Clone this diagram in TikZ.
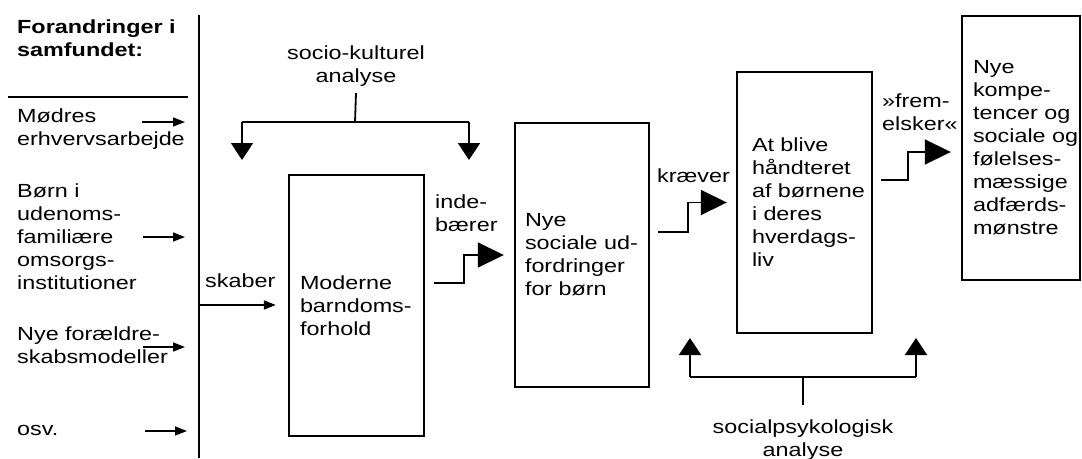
\documentclass[tikz,border=0pt]{standalone}
\usepackage{fontspec}
\setmainfont[FakeStretch=1.23]{Liberation Sans}
\usetikzlibrary{arrows.meta,calc}
\hyphenpenalty=10000
\exhyphenpenalty=10000
\begin{document}
\begin{tikzpicture}[x=1pt,y=-1pt,
  every node/.style={font=\fontsize{19}{23}\selectfont, inner sep=0pt},
  txt/.style={anchor=base west, align=left},
  ctxt/.style={anchor=base, align=center},
  mainline/.style={line width=2.2pt},
  lw/.style={line width=1.8pt},
  box/.style={draw, line width=2.4pt, align=left, inner ysep=0pt},
  smallarr/.style={line width=1.6pt, -{Triangle[length=12pt,width=9pt]}},
  bigarr/.style={line width=1.8pt, -{Triangle[length=17pt,width=22pt]}},
  steparr/.style={line width=1.8pt, -{Triangle[length=26pt,width=25pt]}}
]
\useasboundingbox (0,0) rectangle (1082,458);

% left column (base anchor = baseline of the last line)
\node[txt, font=\fontsize{19}{23}\selectfont\bfseries] (title) at (17,56) {Forandringer i\\samfundet:};
\coordinate (rl) at (8,97);
\coordinate (rr) at (188,97);
\draw[lw] (rl) -- (rr);
\coordinate (vtop) at (199,15);
\coordinate (vbot) at (199,458);
\draw[mainline] (vtop) -- (vbot);

\node[txt] (f1) at (17,145) {Mødres\\erhvervsarbejde};
\node[txt] (f2) at (17,289) {Børn i\\udenoms-\\familiære\\omsorgs-\\institutioner};
\node[txt] (f3) at (17,363) {Nye forældre-\\skabsmodeller};
\node[txt] (f4) at (17,435) {osv.};

\coordinate (a1s) at (142,122); \coordinate (a1e) at (185,122);
\coordinate (a2s) at (143,237); \coordinate (a2e) at (185,237);
\coordinate (a3s) at (143,347); \coordinate (a3e) at (185,347);
\coordinate (a4s) at (145,431); \coordinate (a4e) at (187,431);
\draw[smallarr] (a1s) -- (a1e);
\draw[smallarr] (a2s) -- (a2e);
\draw[smallarr] (a3s) -- (a3e);
\draw[smallarr] (a4s) -- (a4e);

% boxes
\node[box, text width=113pt, inner xsep=11pt, minimum height=261pt] (b1) at (356.5,305.5)
  {Moderne\\barndoms-\\forhold};
\node[box, text width=114pt, inner xsep=10pt, minimum height=264pt] (b2) at (582,255)
  {Nye\\sociale~ud-\\fordringer\\for~børn};
\node[box, text width=105pt, inner xsep=15pt, minimum height=261pt] (b3) at (804.5,202.5)
  {At~blive\\håndteret\\af~børnene\\i~deres\\hverdags-\\liv};
\node[box, text width=96pt, inner xsep=11pt, minimum height=264pt] (b4) at (1021,148)
  {Nye\\kompe-\\tencer~og\\sociale~og\\følelses-\\mæssige\\adfærds-\\mønstre};

% skaber
\node[txt] (skaber) at (205,287) {skaber};
\coordinate (sk) at (199,305);
\draw[smallarr] (sk) -- ($(b1.west |- sk)+(-12,0)$);

% step arrows
\node[txt] (inde) at (435,231) {inde-\\bærer};
\draw[steparr] ($(b1.east)+(9,-22.5)$) -- ++(30,0) |- ($(b2.west)+(-10,0)$);
\node[txt] (kraever) at (657,182) {kræver};
\draw[steparr] ($(b2.east)+(8,-23)$) -- ++(30,0) |- ($(b3.west)+(-9,0)$);
\node[txt] (frem) at (882,130) {»frem-\\elsker«};
\draw[steparr] ($(b3.east)+(8,-22.5)$) -- ++(27,0) |- ($(b4.west)+(-10,4)$);

% top bracket
\node[ctxt] (socio) at (356,82) {socio-kulturel\\analyse};
\coordinate (tj) at (355,122);
\coordinate (tl) at (242,122);
\coordinate (tr) at (469,122);
\draw[lw] ($(socio.south)+(0,7)$) -- (tj);
\draw[lw] (tl) -- (tr);
\draw[bigarr] (tl) -- ++(0,38);
\draw[bigarr] (tr) -- ++(0,38);

% bottom bracket
\node[ctxt] (sopsy) at (803,456) {socialpsykologisk\\analyse};
\coordinate (bj) at (803,377);
\coordinate (bl) at (690,377);
\coordinate (br) at (916,377);
\draw[lw] (bj) -- ($(sopsy.north)+(0,-14)$);
\draw[lw] (bl) -- (br);
\draw[bigarr] (bl) -- ++(0,-39);
\draw[bigarr] (br) -- ++(0,-39);
\end{tikzpicture}
\end{document}
